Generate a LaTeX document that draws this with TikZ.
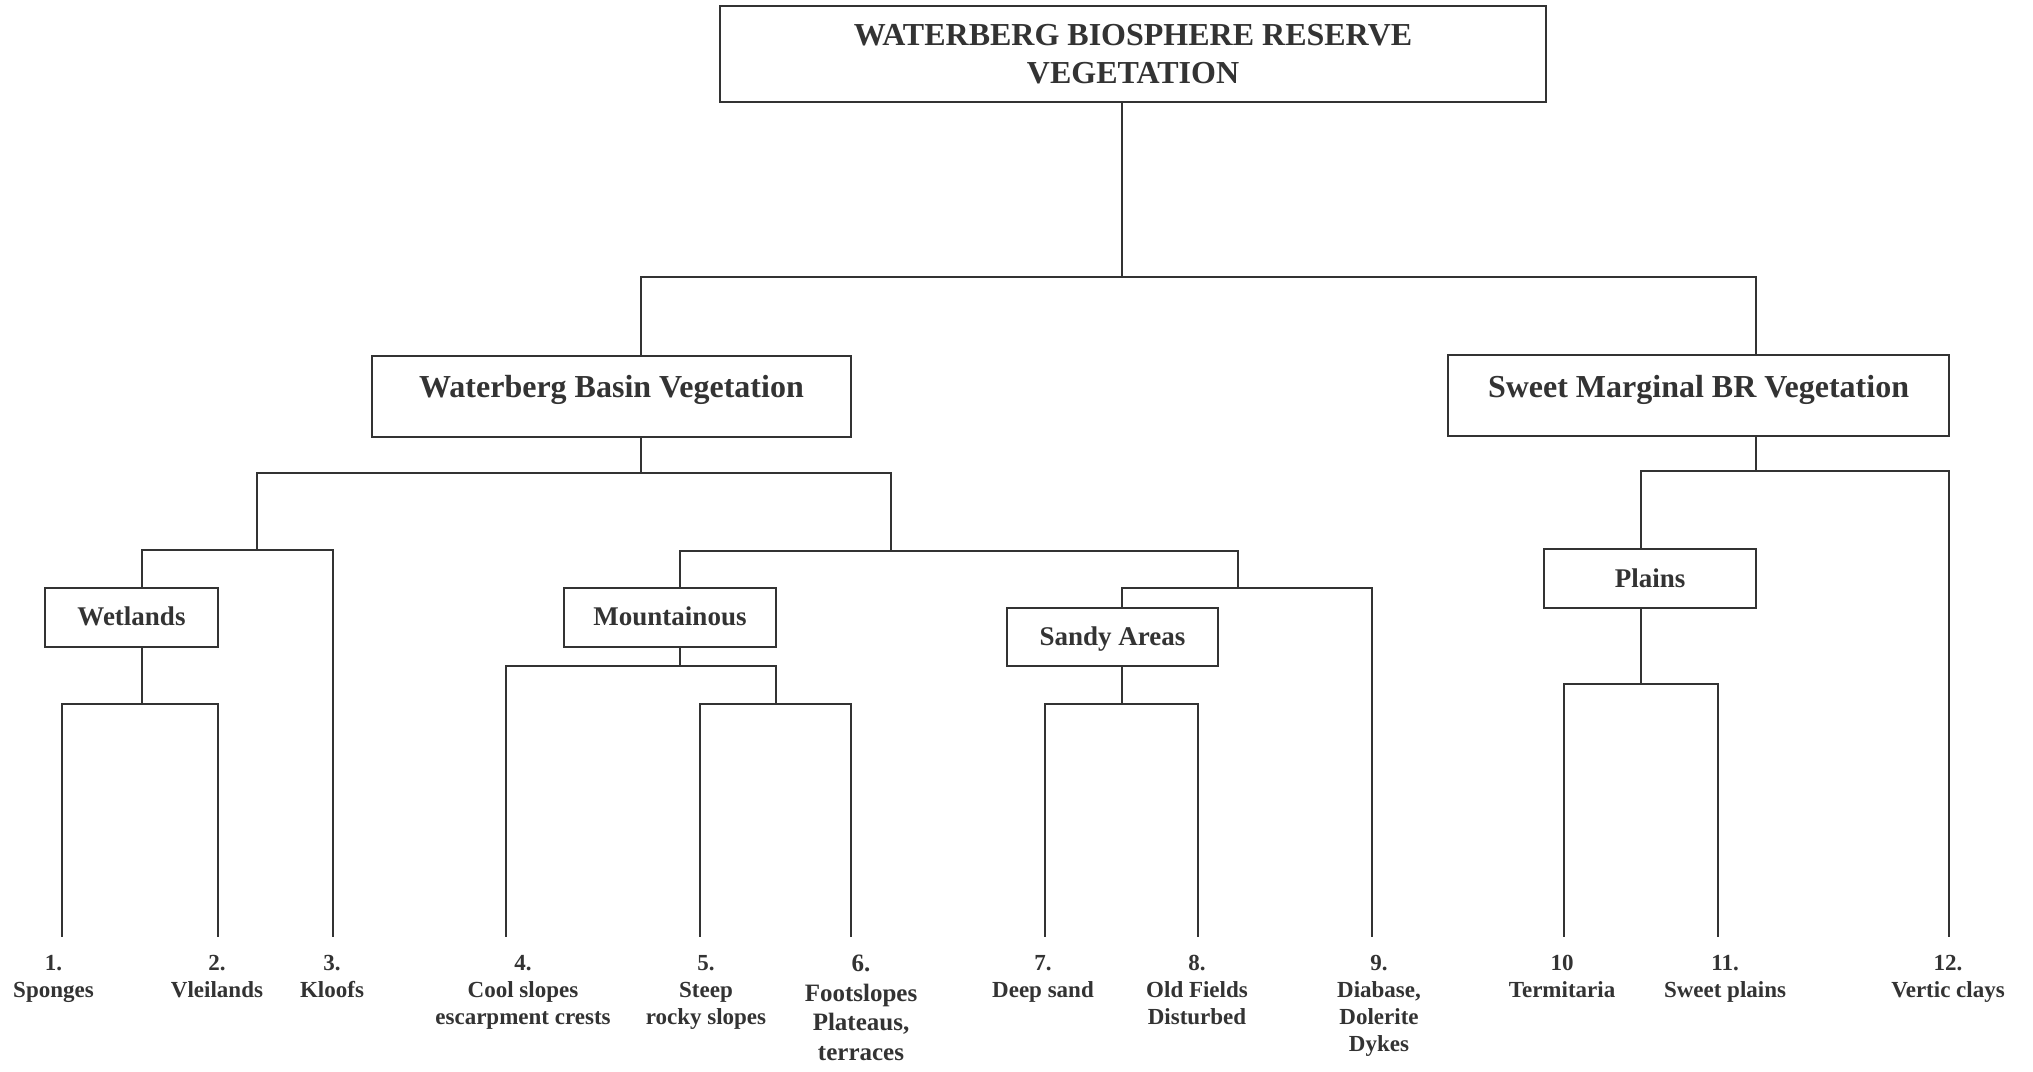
\documentclass[tikz,border=0pt]{standalone}
\usepackage{fontspec}
\setmainfont{Liberation Serif}
\definecolor{ink}{HTML}{333333}
\begin{document}
\begin{tikzpicture}[x=1pt,y=-1pt,
  box/.style={draw=ink, line width=1.8pt, inner sep=0pt, text=ink, anchor=base},
  bigfont/.style={font=\bfseries\fontsize{32}{38.5}\selectfont},
  midfont/.style={font=\bfseries\fontsize{27}{32}\selectfont},
  leaf/.style={anchor=north, inner sep=0pt, align=center, text=ink, font=\bfseries\fontsize{23}{27}\selectfont},
  conn/.style={draw=ink, line width=1.8pt, line cap=rect}]
\path[fill=white] (0,0) rectangle (2033,1071);
\useasboundingbox (0,0) rectangle (2033,1071);

% boxes
\node[box, bigfont, anchor=center, align=center, minimum width=826pt, minimum height=96pt] (root) at (1133,54) {WATERBERG BIOSPHERE RESERVE\\VEGETATION};
\node[box, bigfont, minimum width=479pt, text height=41pt, text depth=40pt] (basin) at (611.5,397) {Waterberg Basin Vegetation};
\node[box, bigfont, minimum width=501pt, text height=42pt, text depth=39pt] (sweet) at (1698.5,397) {Sweet Marginal BR Vegetation};
\node[box, midfont, minimum width=173pt, text height=37pt, text depth=22pt] (wet) at (131.5,625) {Wetlands};
\node[box, midfont, minimum width=212pt, text height=37pt, text depth=22pt] (mtn) at (670,625) {Mountainous};
\node[box, midfont, minimum width=211pt, text height=37pt, text depth=21pt] (sandy) at (1112.5,645) {Sandy Areas};
\node[box, midfont, minimum width=212pt, text height=38pt, text depth=21pt] (plains) at (1650,587) {Plains};

% leaves
\node[leaf] (l1) at (53.5,955) {1.\\Sponges};
\node[leaf] (l2) at (217,955) {2.\\Vleilands};
\node[leaf] (l3) at (332,955) {3.\\Kloofs};
\node[leaf] (l4) at (523,955) {4.\\Cool slopes\\escarpment crests};
\node[leaf] (l5) at (706,955) {5.\\Steep\\rocky slopes};
\node[leaf, font=\bfseries\fontsize{25}{29.5}\selectfont] (l6) at (861,955) {6.\\Footslopes\\Plateaus,\\terraces};
\node[leaf] (l7) at (1043,955) {7.\\Deep sand};
\node[leaf] (l8) at (1197,955) {8.\\Old Fields\\Disturbed};
\node[leaf] (l9) at (1379,955) {9.\\Diabase,\\Dolerite\\Dykes};
\node[leaf] (l10) at (1562,955) {10\\Termitaria};
\node[leaf] (l11) at (1725,955) {11.\\Sweet plains};
\node[leaf] (l12) at (1948,955) {12.\\Vertic clays};

% junction coordinates
\coordinate (j0) at (1122,277); \coordinate (jA) at (641,277); \coordinate (jB) at (1756,277);
\coordinate (b0) at (641,473); \coordinate (bL) at (257,473); \coordinate (bR) at (891,473);
\coordinate (w0) at (257,550); \coordinate (wL) at (142,550); \coordinate (wR) at (333,550);
\coordinate (wt0) at (142,704); \coordinate (wtL) at (62,704); \coordinate (wtR) at (218,704);
\coordinate (m0) at (891,551); \coordinate (mL) at (680,551); \coordinate (mR) at (1238,551);
\coordinate (mt0) at (680,666); \coordinate (mtL) at (506,666); \coordinate (mtR) at (776,666);
\coordinate (mt2) at (776,704); \coordinate (mt2L) at (700,704); \coordinate (mt2R) at (851,704);
\coordinate (s0) at (1238,588); \coordinate (sL) at (1122,588); \coordinate (sR) at (1372,588);
\coordinate (st0) at (1122,704); \coordinate (stL) at (1045,704); \coordinate (stR) at (1198,704);
\coordinate (sw0) at (1756,471); \coordinate (swL) at (1641,471); \coordinate (swR) at (1949,471);
\coordinate (p0) at (1641,684); \coordinate (pL) at (1564,684); \coordinate (pR) at (1718,684);
% free ends above leaf labels
\coordinate (e1) at (62,936); \coordinate (e2) at (218,936); \coordinate (e3) at (333,936);
\coordinate (e4) at (506,936); \coordinate (e5) at (700,936); \coordinate (e6) at (851,936);
\coordinate (e7) at (1045,936); \coordinate (e8) at (1198,936); \coordinate (e9) at (1372,936);
\coordinate (e10) at (1564,936); \coordinate (e11) at (1718,936); \coordinate (e12) at (1949,936);

% connectors
\draw[conn] (root.south -| j0) -- (j0);
\draw[conn] (jA) -- (jB);
\draw[conn] (jA) -- (basin.north -| jA);
\draw[conn] (jB) -- (sweet.north -| jB);

\draw[conn] (basin.south -| b0) -- (b0);
\draw[conn] (bL) -- (bR);
\draw[conn] (bL) -- (w0);
\draw[conn] (wL) -- (wR);
\draw[conn] (wL) -- (wet.north -| wL);
\draw[conn] (wR) -- (e3);
\draw[conn] (wet.south -| wt0) -- (wt0);
\draw[conn] (wtL) -- (wtR);
\draw[conn] (wtL) -- (e1);
\draw[conn] (wtR) -- (e2);

\draw[conn] (bR) -- (m0);
\draw[conn] (mL) -- (mR);
\draw[conn] (mL) -- (mtn.north -| mL);
\draw[conn] (mtn.south -| mt0) -- (mt0);
\draw[conn] (mtL) -- (mtR);
\draw[conn] (mtL) -- (e4);
\draw[conn] (mtR) -- (mt2);
\draw[conn] (mt2L) -- (mt2R);
\draw[conn] (mt2L) -- (e5);
\draw[conn] (mt2R) -- (e6);

\draw[conn] (mR) -- (s0);
\draw[conn] (sL) -- (sR);
\draw[conn] (sL) -- (sandy.north -| sL);
\draw[conn] (sR) -- (e9);
\draw[conn] (sandy.south -| st0) -- (st0);
\draw[conn] (stL) -- (stR);
\draw[conn] (stL) -- (e7);
\draw[conn] (stR) -- (e8);

\draw[conn] (sweet.south -| sw0) -- (sw0);
\draw[conn] (swL) -- (swR);
\draw[conn] (swL) -- (plains.north -| swL);
\draw[conn] (swR) -- (e12);
\draw[conn] (plains.south -| p0) -- (p0);
\draw[conn] (pL) -- (pR);
\draw[conn] (pL) -- (e10);
\draw[conn] (pR) -- (e11);
\end{tikzpicture}
\end{document}
